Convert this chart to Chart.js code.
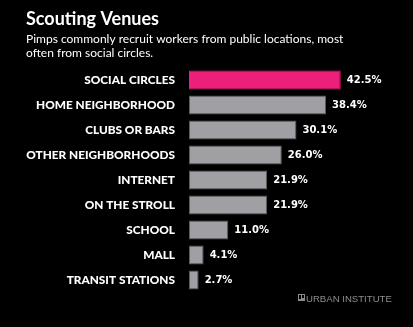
<!DOCTYPE html>
<html>
<head>
<meta charset="utf-8">
<script src="https://cdn.jsdelivr.net/npm/chart.js@4"></script>
<style>
  html, body { margin: 0; padding: 0; background: #000; }
  #wrap { width: 413px; height: 327px; position: relative; }
</style>
</head>
<body>
<div id="wrap"><canvas id="chart"></canvas></div>
<script>
// Recruitment venues, share of respondents (%)
const venues = [
  'SOCIAL CIRCLES',
  'HOME NEIGHBORHOOD',
  'CLUBS OR BARS',
  'OTHER NEIGHBORHOODS',
  'INTERNET',
  'ON THE STROLL',
  'SCHOOL',
  'MALL',
  'TRANSIT STATIONS'
];
const shares = [42.5, 38.4, 30.1, 26.0, 21.9, 21.9, 11.0, 4.1, 2.7];
const valueLabels = ['42.5%', '38.4%', '30.1%', '26.0%', '21.9%', '21.9%', '11.0%', '4.1%', '2.7%'];

const PINK = '#ec1f7a';
const GREY = '#a0a0a4';
const GREY_EDGE = '#5c5c60';

// Percentage labels to the right of each bar
const valueLabelPlugin = {
  id: 'valueLabels',
  afterDatasetsDraw(chart) {
    const ctx = chart.ctx;
    const meta = chart.getDatasetMeta(0);
    ctx.save();
    ctx.font = 'bold 10px "DejaVu Sans"';
    ctx.fillStyle = '#ffffff';
    ctx.textAlign = 'left';
    ctx.textBaseline = 'middle';
    meta.data.forEach((bar, i) => {
      ctx.fillText(valueLabels[i], bar.x + 6, bar.y + 0.5);
    });
    ctx.restore();
  }
};

// Publisher mark in the lower right corner
const brandPlugin = {
  id: 'brand',
  afterDraw(chart) {
    const ctx = chart.ctx;
    ctx.save();
    ctx.fillStyle = '#8c8c8c';
    ctx.fillRect(298, 294, 7, 7);
    ctx.fillStyle = '#000';
    ctx.fillRect(299, 295, 2, 4);
    ctx.fillRect(302, 295, 2, 3);
    ctx.fillStyle = '#8c8c8c';
    ctx.font = '9.6px "Liberation Sans Narrow", "Liberation Sans"';
    ctx.textAlign = 'left';
    ctx.textBaseline = 'alphabetic';
    ctx.fillText('URBAN INSTITUTE', 306, 301.5);
    ctx.restore();
  }
};

new Chart(document.getElementById('chart'), {
  type: 'bar',
  data: {
    labels: venues,
    datasets: [{
      data: shares,
      backgroundColor: shares.map((v, i) => i === 0 ? PINK : GREY),
      borderColor: shares.map((v, i) => i === 0 ? PINK : GREY_EDGE),
      borderWidth: 1,
      borderSkipped: false,
      categoryPercentage: 1.0,
      barPercentage: 0.76
    }]
  },
  options: {
    indexAxis: 'y',
    responsive: true,
    maintainAspectRatio: false,
    animation: false,
    devicePixelRatio: 1,
    layout: { padding: { left: 26, right: 45.5, top: 0, bottom: 34.5 } },
    plugins: {
      legend: { display: false },
      tooltip: { enabled: false },
      title: {
        display: true,
        text: 'Scouting Venues',
        align: 'start',
        color: '#ffffff',
        font: { family: 'Lato', weight: 'bold', size: 18, lineHeight: 1.2 },
        padding: { top: 8, bottom: 0 }
      },
      subtitle: {
        display: true,
        text: ['Pimps commonly recruit workers from public locations, most', 'often from social circles.'],
        align: 'start',
        color: '#ffffff',
        font: { family: 'Lato', size: 12, lineHeight: 1.1667 },
        padding: { top: 3, bottom: 7 }
      }
    },
    scales: {
      x: {
        display: false,
        min: 0,
        max: 50
      },
      y: {
        grid: { display: false },
        border: { display: false },
        afterFit(scale) { scale.width = 163; },
        ticks: {
          color: '#ffffff',
          padding: 6,
          font: { family: 'Lato', weight: 900, size: 11.8 }
        }
      }
    }
  },
  plugins: [valueLabelPlugin, brandPlugin]
});
</script>
</body>
</html>
